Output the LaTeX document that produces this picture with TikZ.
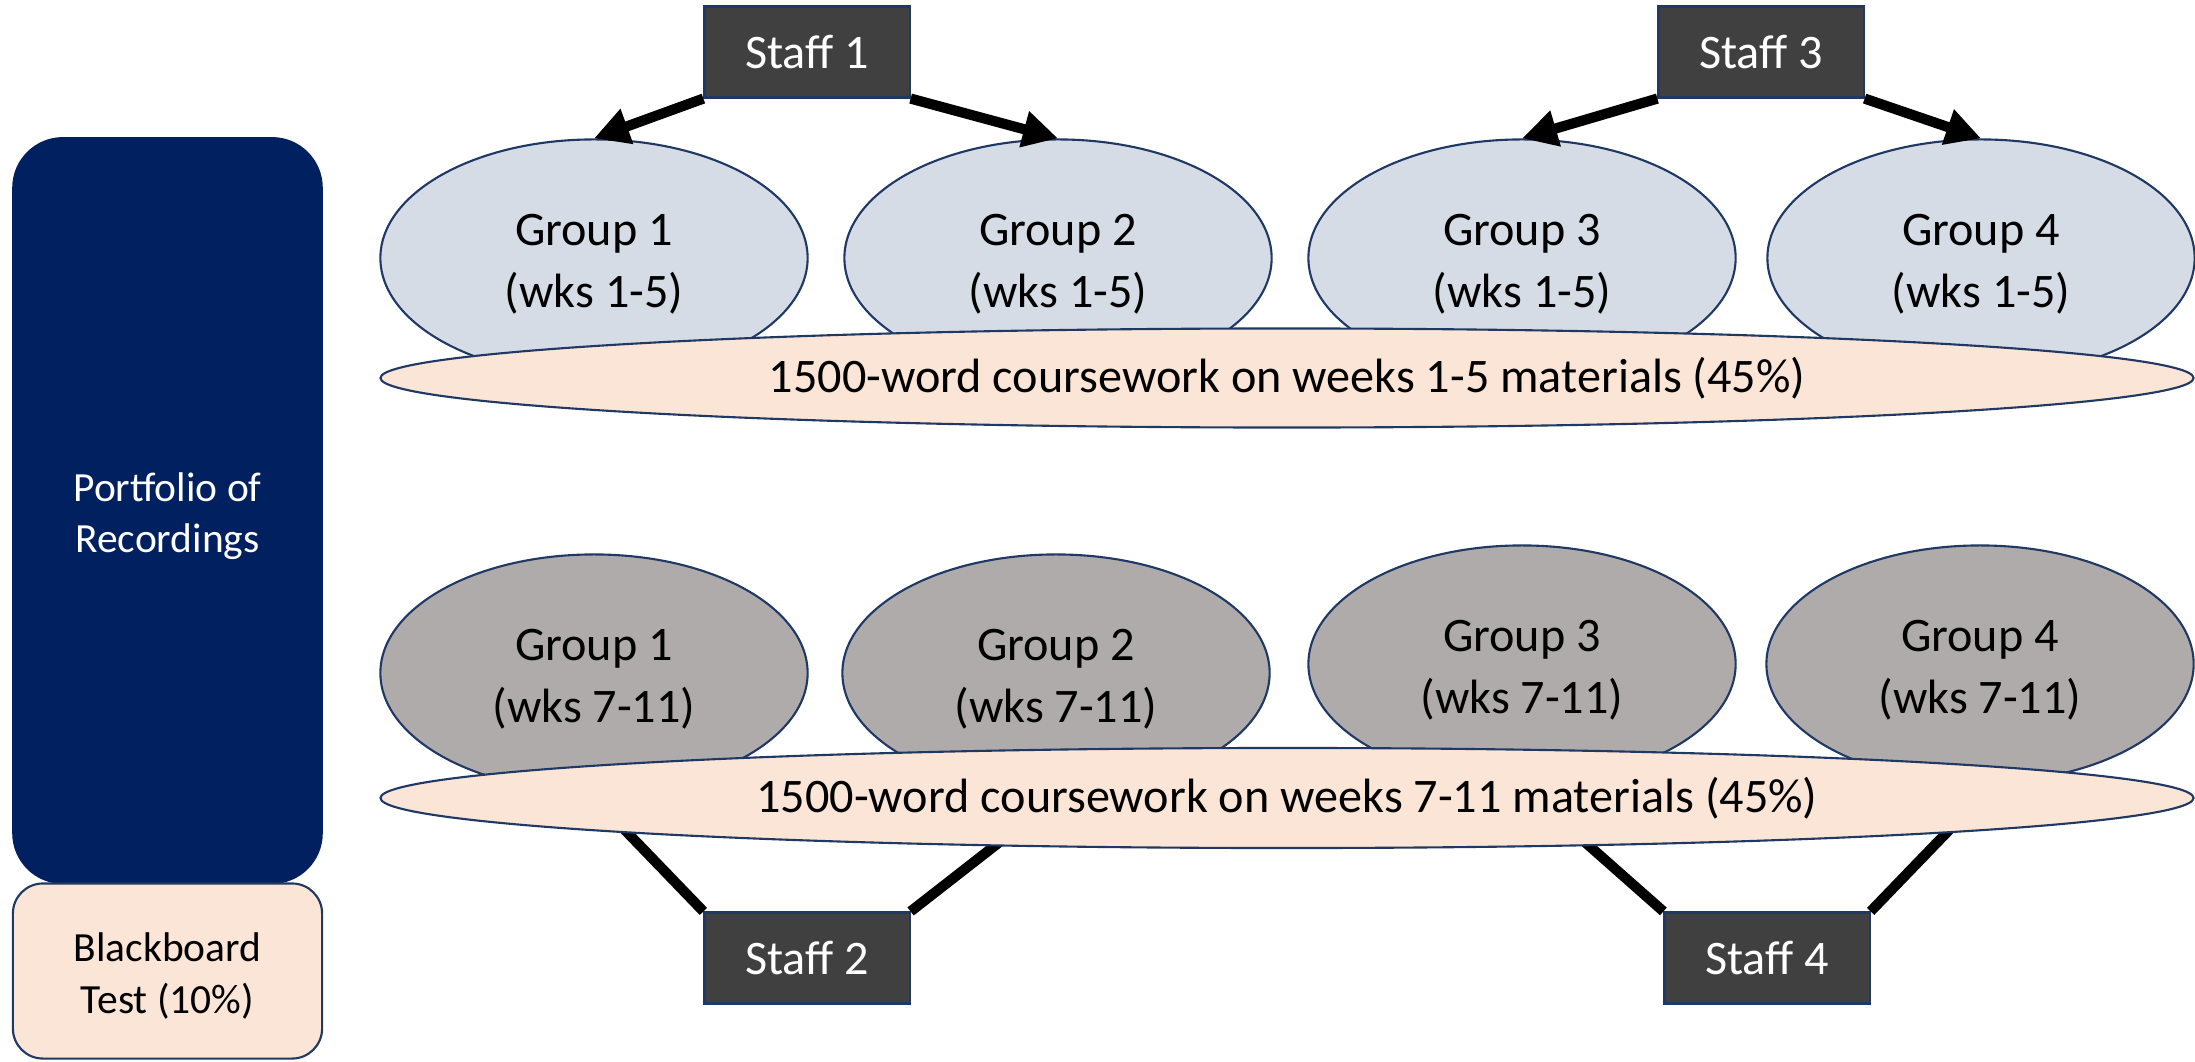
\documentclass[tikz,border=0pt]{standalone}
\usepackage{fontspec}
\setmainfont{Carlito}
\usetikzlibrary{shapes.geometric,arrows.meta}
\definecolor{navyc}{HTML}{002060}
\definecolor{bordc}{HTML}{1F3864}
\definecolor{grptop}{HTML}{D6DCE5}
\definecolor{grpbot}{HTML}{AFABAB}
\definecolor{peach}{HTML}{FBE5D6}
\definecolor{staffc}{HTML}{404040}
\newcommand{\twoline}[2]{\raisebox{-1.8pt}[\height][\depth]{\begin{tabular}{@{}c@{}}#1\\#2\end{tabular}}}
\begin{document}
\begin{tikzpicture}[x=0.01cm,y=-0.01cm,
  mainfont/.style={font=\fontsize{13.7}{17.6}\selectfont},
  smallfont/.style={font=\fontsize{11.8}{14.6}\selectfont},
  grp/.style={ellipse, draw=bordc, line width=0.6pt, minimum width=4.27cm, minimum height=2.37cm, inner sep=0pt, align=center, mainfont},
  grpa/.style={grp, fill=grptop},
  grpb/.style={grp, fill=grpbot},
  staffbox/.style={rectangle, draw=bordc, line width=0.6pt, fill=staffc, text=white, minimum width=2.05cm, minimum height=0.91cm, inner sep=0pt, mainfont},
  cw/.style={ellipse, draw=bordc, line width=0.6pt, fill=peach, minimum width=18.12cm, minimum height=0.99cm, inner sep=0pt, mainfont},
  arr/.style={line width=2.9pt, -{Triangle[length=0.35cm,width=0.35cm]}},
  ln/.style={line width=2.9pt},
]
\useasboundingbox (0,0) rectangle (2195,1061);

% left column
\node[rectangle, rounded corners=0.5cm, fill=navyc, draw=navyc, minimum width=3.09cm, minimum height=7.45cm, inner sep=0pt, text=white, align=center, smallfont] (port) at (167.5,510.5) {\twoline{Portfolio of}{Recordings}};
\node[rectangle, rounded corners=0.3cm, fill=peach, draw=bordc, line width=0.6pt, minimum width=3.09cm, minimum height=1.75cm, inner sep=0pt, align=center, smallfont] (bb) at (167.5,971) {\twoline{Blackboard}{Test (10\%)}};

% top row
\node[grpa] (g1) at (594,258) {\twoline{Group 1}{(wks 1-5)}};
\node[grpa] (g2) at (1058,258) {\twoline{Group 2}{(wks 1-5)}};
\node[grpa] (g3) at (1522,258) {\twoline{Group 3}{(wks 1-5)}};
\node[grpa] (g4) at (1981,258) {\twoline{Group 4}{(wks 1-5)}};
\node[cw] (cw1) at (1287,378) {1500-word coursework on weeks 1-5 materials (45\%)};

\node[staffbox] (s1) at (807,52) {Staff 1};
\node[staffbox] (s3) at (1761,52) {Staff 3};
\draw[arr] (s1.south west) -- (g1.north);
\draw[arr] (s1.south east) -- (g2.north);
\draw[arr] (s3.south west) -- (g3.north);
\draw[arr] (s3.south east) -- (g4.north);

% bottom row
\node[grpb] (g5) at (594,673) {\twoline{Group 1}{(wks 7-11)}};
\node[grpb] (g6) at (1056,673) {\twoline{Group 2}{(wks 7-11)}};
\node[grpb] (g7) at (1522,664) {\twoline{Group 3}{(wks 7-11)}};
\node[grpb] (g8) at (1980,664) {\twoline{Group 4}{(wks 7-11)}};

\node[staffbox] (s2) at (807,958) {Staff 2};
\node[staffbox] (s4) at (1767,958) {Staff 4};
\coordinate (c5) at (594,798);
\coordinate (c6) at (1056,798);
\coordinate (c7) at (1535,798);
\coordinate (c8) at (1980,798);
\draw[ln] (s2.north west) -- (c5);
\draw[ln] (s2.north east) -- (c6);
\draw[ln] (s4.north west) -- (c7);
\draw[ln] (s4.north east) -- (c8);

\node[cw, minimum height=1.0cm] (cw2) at (1287,798) {1500-word coursework on weeks 7-11 materials (45\%)};
\end{tikzpicture}
\end{document}
